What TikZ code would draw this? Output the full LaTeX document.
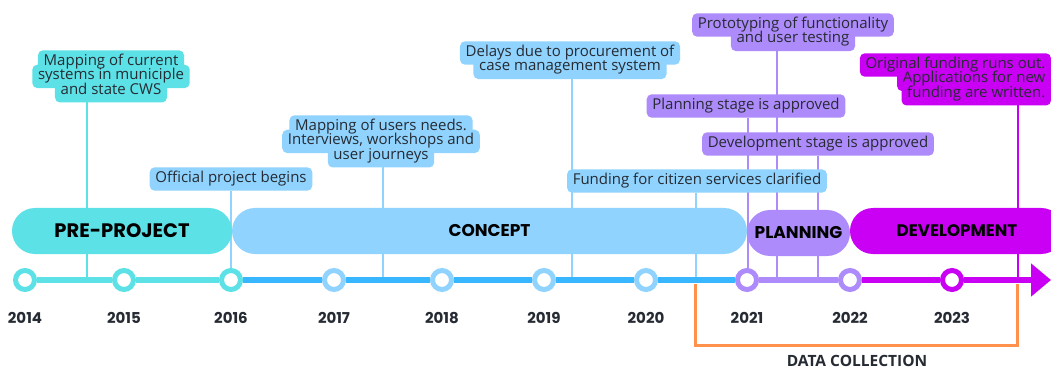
\documentclass[tikz,border=0pt]{standalone}
\usepackage{fontspec}
\setmainfont{Open Sans}
\newfontfamily\headfont{Poppins}
\usetikzlibrary{positioning,arrows.meta}
\definecolor{preclr}{HTML}{5CE1E6}
\definecolor{conclr}{HTML}{8FD3FE}
\definecolor{lineclr}{HTML}{38B6FF}
\definecolor{planclr}{HTML}{AE8BFA}
\definecolor{devclr}{HTML}{C900F3}
\definecolor{dataclr}{HTML}{FF914D}
\definecolor{inkclr}{HTML}{262B33}
\pgfdeclarelayer{background}
\pgfdeclarelayer{boxes}
\pgfsetlayers{background,boxes,main}
\tikzset{
% Caption text: one node per line, the fills go on their own layer
note/.style={inner xsep=5.5pt,inner ysep=3.5pt,
  text height=11.5pt,text depth=4.5pt,text=inkclr,font=\fontsize{15}{14}\selectfont},
notebox/.style={fill=#1,rounded corners=5pt},
% Thin lines from the captions down to the axis
stem/.style={draw=#1,line width=1.5pt},
% Phase bars and their titles
phase/.style={fill=#1,rounded corners=23pt,minimum height=46pt,inner sep=0pt},
phase text/.style={font=\headfont\bfseries\fontsize{#1}{#1}\selectfont,text=black},
% Year markers on the axis
year/.style={circle,draw=#1,line width=5pt,fill=white,minimum size=19pt,inner sep=0pt},
year text/.style={font=\headfont\bfseries\fontsize{15}{15}\selectfont,text=inkclr},
axis/.style={draw=#1,line width=6pt}
}

\begin{document}
\begin{tikzpicture}[x=1pt,y=-1pt]
  \useasboundingbox (0,0) rectangle (1051,371);
  \begin{pgfonlayer}{background}
    \fill[white] (0,0) rectangle (1051,371);
  \end{pgfonlayer}

  % Phase bars
  \node[phase=conclr,minimum width=515pt,phase text=17] (concept) at (489.5,231) {CONCEPT};
  \node[phase=preclr,minimum width=220pt,phase text=19.5] (pre) at (122,231) {PRE-PROJECT};
  \node[phase=devclr,minimum width=214pt,phase text=16.7] (dev) at (957,231) {DEVELOPMENT};
  \node[phase=planclr,minimum width=103pt,phase text=17] (plan) at (798.5,233) {PLANNING};

  % Years
  \foreach \yr/\x/\clr in {2014/25/preclr,2015/124/preclr,2016/231/preclr,
      2017/334/conclr,2018/442/conclr,2019/544/conclr,2020/646/conclr,
      2021/747/planclr,2022/850/planclr,2023/952/devclr} {
    \node[year=\clr] (y\yr) at (\x,280) {};
    \node[year text] (t\yr) at (\x,318) {\yr};
  }
  \coordinate (tip) at (1051,280);
  \draw[axis=preclr] (y2014) -- (y2015);
  \draw[axis=preclr] (y2015) -- (y2016);
  \draw[axis=lineclr] (y2016) -- (y2017);
  \draw[axis=lineclr] (y2017) -- (y2018);
  \draw[axis=lineclr] (y2018) -- (y2019);
  \draw[axis=lineclr] (y2019) -- (y2020);
  \draw[axis=lineclr] (y2020) -- (y2021);
  \draw[axis=planclr] (y2021) -- (y2022);
  \draw[axis=devclr] (y2022) -- (y2023);
  \draw[axis=devclr,-{Triangle[length=20pt,width=32pt]}] (y2023) -- (tip);

  % Captions
  \node[note] (c1a) at (111,62) {Mapping of current};
  \node[note,below=-9pt of c1a] (c1b) {systems in municiple};
  \node[note,below=-9pt of c1b] (c1c) {and state CWS};

  \node[note] (c2) at (231,179) {Official project begins};

  \node[note] (c3a) at (381,127) {Mapping of users needs.};
  \node[note,below=-9pt of c3a] (c3b) {Interviews, workshops and};
  \node[note,below=-9pt of c3b] (c3c) {user journeys};

  \node[note] (c4a) at (570,53) {Delays due to procurement of};
  \node[note,below=-9pt of c4a] (c4b) {case management system};

  \node[note] (c5) at (697,181) {Funding for citizen services clarified};

  \node[note] (c6a) at (793,25) {Prototyping of functionality};
  \node[note,below=-9pt of c6a] (c6b) {and user testing};

  \node[note] (c7) at (746,106) {Planning stage is approved};
  \node[note] (c8) at (818,144) {Development stage is approved};

  \node[note,anchor=east] (c9a) at (1051,65) {Original funding runs out.};
  \node[note,below=-9pt of c9a.south east,anchor=north east] (c9b) {Applications for new};
  \node[note,below=-9pt of c9b.south east,anchor=north east] (c9c) {funding are written.};

  % Caption fills, behind the text
  \begin{pgfonlayer}{boxes}
    \foreach \n/\clr in {c1a/preclr,c1b/preclr,c1c/preclr,c2/conclr,
        c3a/conclr,c3b/conclr,c3c/conclr,c4a/conclr,c4b/conclr,c5/conclr,
        c6a/planclr,c6b/planclr,c7/planclr,c8/planclr,
        c9a/devclr,c9b/devclr,c9c/devclr}
      \fill[notebox=\clr] (\n.south west) rectangle (\n.north east);
  \end{pgfonlayer}

  % Feet of the stems on the axis
  \coordinate (f1) at (87,280);
  \coordinate (f2) at (231,280);
  \coordinate (f3) at (383,280);
  \coordinate (f4) at (572,280);
  \coordinate (f5) at (696,280);
  \coordinate (f6) at (777,280);
  \coordinate (f7) at (748,280);
  \coordinate (f8) at (818,280);
  \coordinate (f9) at (1018,280);
  \begin{pgfonlayer}{background}
    \draw[stem=preclr] (c1c.south -| f1) -- (f1);
    \draw[stem=conclr] (c2.south -| f2) -- (f2);
    \draw[stem=conclr] (c3c.south -| f3) -- (f3);
    \draw[stem=conclr] (c4b.south -| f4) -- (f4);
    \draw[stem=conclr] (c5.south -| f5) -- (f5);
    \draw[stem=planclr] (c6b.south -| f6) -- (f6);
    \draw[stem=planclr] (c7.south -| f7) -- (f7);
    \draw[stem=planclr] (c8.south -| f8) -- (f8);
    \draw[stem=devclr] (c9c.south -| f9) -- (f9);
  \end{pgfonlayer}

  % Data collection period
  \coordinate (d1) at (695,284);
  \coordinate (d2) at (1017,284);
  \draw[dataclr,line width=3pt] (d1) -- ++(0,61) -| (d2);
  \node[font=\bfseries\fontsize{15.5}{15.5}\selectfont,text=inkclr] (data) at (857,361) {DATA COLLECTION};
\end{tikzpicture}
\end{document}
